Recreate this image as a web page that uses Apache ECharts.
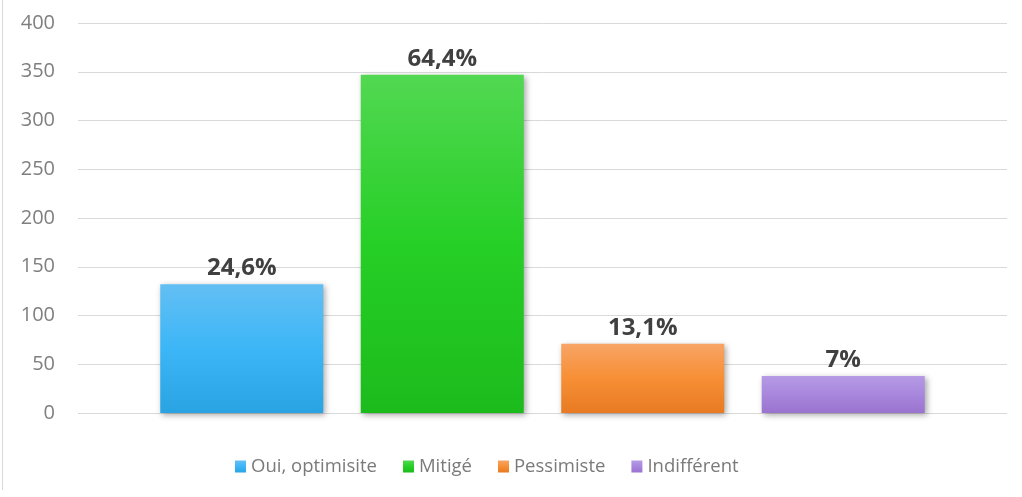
<!DOCTYPE html>
<html>
<head>
<meta charset="utf-8">
<script src="https://cdn.jsdelivr.net/npm/echarts@6/dist/echarts.min.js"></script>
<style>
html,body{margin:0;padding:0;background:#fff;}
#wrap{position:absolute;left:0;top:0;width:1022px;height:497px;}
#edge{position:absolute;left:2px;top:0;width:1px;height:490px;background:#d9d9d9;}
#chart{position:absolute;left:0;top:0;width:1022px;height:497px;}
</style>
</head>
<body>
<div id="wrap"><div id="edge"></div><div id="chart"></div></div>
<script>
const categories = ['Oui, optimisite', 'Mitigé', 'Pessimiste', 'Indifférent'];
const values = [132, 347, 71, 38];
const pctLabels = ['24,6%', '64,4%', '13,1%', '7%'];
const yTicks = { min: 0, max: 400, interval: 50 };
const gradients = [
  ['#63bff4', '#3cb6f6', '#2aa3e3'],
  ['#52d852', '#26cf26', '#1cbb1c'],
  ['#f7a466', '#f78f35', '#e77a22'],
  ['#b59ae4', '#a887dd', '#9a73cf']
];

function grad(c) {
  return new echarts.graphic.LinearGradient(0, 0, 0, 1, [
    { offset: 0, color: c[0] },
    { offset: 0.5, color: c[1] },
    { offset: 1, color: c[2] }
  ]);
}

const chart = echarts.init(document.getElementById('chart'), null, { renderer: 'canvas' });
const series = categories.map((name, i) => ({
  name: name,
  type: 'bar',
  barWidth: 163,
  barGap: '23%',
  data: [values[i]],
  itemStyle: {
    color: grad(gradients[i]),
    shadowColor: 'rgba(0,0,0,0.35)',
    shadowBlur: 6,
    shadowOffsetX: 2,
    shadowOffsetY: 2
  },
  label: {
    show: true,
    position: 'top',
    distance: 4,
    formatter: pctLabels[i],
    fontFamily: 'Open Sans',
    fontWeight: 'bold',
    fontSize: 24,
    color: '#404040'
  }
}));

chart.setOption({
  animation: false,
  grid: { left: 78, right: 15, top: 23, bottom: 84, containLabel: false },
  legend: {
    data: categories,
    left: 230,
    top: 452,
    itemWidth: 11,
    itemHeight: 12,
    itemGap: 26,
    icon: 'rect',
    textStyle: { fontFamily: 'Open Sans', fontSize: 18.5, color: '#7a7a7a' }
  },
  xAxis: {
    type: 'category',
    data: [''],
    axisLine: { show: false },
    axisTick: { show: false },
    axisLabel: { show: false }
  },
  yAxis: {
    type: 'value',
    min: yTicks.min,
    max: yTicks.max,
    interval: yTicks.interval,
    axisLine: { show: false },
    axisTick: { show: false },
    axisLabel: { margin: 23, fontFamily: 'Open Sans', fontSize: 20, color: '#7f7f7f' },
    splitLine: { lineStyle: { color: '#d9d9d9', width: 1 } }
  },
  series: series
});
</script>
</body>
</html>
